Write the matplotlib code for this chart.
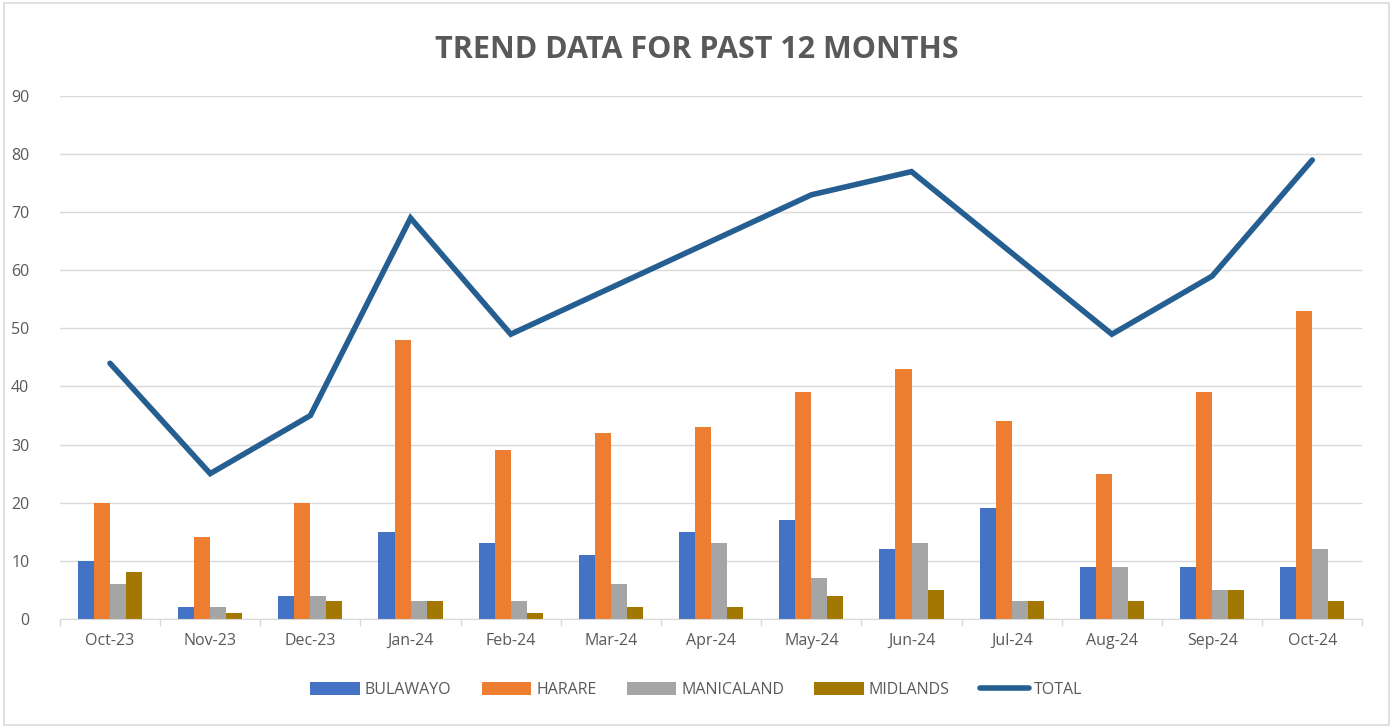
import matplotlib.pyplot as plt
import numpy as np
from matplotlib.patches import Rectangle

plt.rcParams['font.family'] = ['Open Sans', 'DejaVu Sans']

months = ['Oct-23', 'Nov-23', 'Dec-23', 'Jan-24', 'Feb-24', 'Mar-24', 'Apr-24',
          'May-24', 'Jun-24', 'Jul-24', 'Aug-24', 'Sep-24', 'Oct-24']
bulawayo = [10, 2, 4, 15, 13, 11, 15, 17, 12, 19, 9, 9, 9]
harare = [20, 14, 20, 48, 29, 32, 33, 39, 43, 34, 25, 39, 53]
manicaland = [6, 2, 4, 3, 3, 6, 13, 7, 13, 3, 9, 5, 12]
midlands = [8, 1, 3, 3, 1, 2, 2, 4, 5, 3, 3, 5, 3]
total = [44, 25, 35, 69, 49, 57, 65, 73, 77, 63, 49, 59, 79]

series = [('BULAWAYO', bulawayo, '#4472C4'),
          ('HARARE', harare, '#ED7D31'),
          ('MANICALAND', manicaland, '#A5A5A5'),
          ('MIDLANDS', midlands, '#A37800')]

text_col = '#595959'
fig = plt.figure(figsize=(13.93, 7.28), dpi=100)
ax = fig.add_axes([0.043, 0.15, 0.935, 0.718])

x = np.arange(len(months))
w = 0.16
for i, (name, vals, col) in enumerate(series):
    ax.bar(x + (i - 1.5) * w, vals, w, color=col, label=name, zorder=2)

ax.plot(x, total, color='#255E91', lw=4, label='TOTAL', zorder=3,
        solid_capstyle='round', solid_joinstyle='miter')

ax.set_xlim(-0.5, len(months) - 0.5)
ax.set_ylim(0, 90)
ax.set_yticks(range(0, 91, 10))
ax.set_xticks(x)
ax.set_xticklabels(months)
ax.set_xticks(np.arange(-0.5, len(months)), minor=True)
ax.tick_params(axis='x', which='major', length=0, pad=10, labelsize=11.5, labelcolor=text_col)
ax.tick_params(axis='x', which='minor', length=5, color='#D9D9D9', width=1)
ax.tick_params(axis='y', length=0, pad=22, labelsize=11.5, labelcolor=text_col)
ax.grid(axis='y', color='#D9D9D9', lw=1, zorder=0)
for s in ['top', 'right', 'left']:
    ax.spines[s].set_visible(False)
ax.spines['bottom'].set_color('#D9D9D9')

fig.text(0.5, 0.932, 'TREND DATA FOR PAST 12 MONTHS', ha='center', va='center',
         fontsize=22, fontweight='bold', color=text_col)

handles, labels = ax.get_legend_handles_labels()
order = [labels.index(n) for n in ['BULAWAYO', 'HARARE', 'MANICALAND', 'MIDLANDS', 'TOTAL']]
fig.legend([handles[i] for i in order], [labels[i] for i in order],
           loc='center', bbox_to_anchor=(0.5, 0.052), ncol=5, frameon=False,
           fontsize=11.5, labelcolor=text_col, handlelength=3.1, handleheight=0.9,
           columnspacing=1.9, handletextpad=0.3)

fig.patches.append(Rectangle((0.003, 0.004), 0.994, 0.992, transform=fig.transFigure,
                             fill=False, edgecolor='#D9D9D9', lw=1.2))

fig.savefig('out.png', dpi=100)
